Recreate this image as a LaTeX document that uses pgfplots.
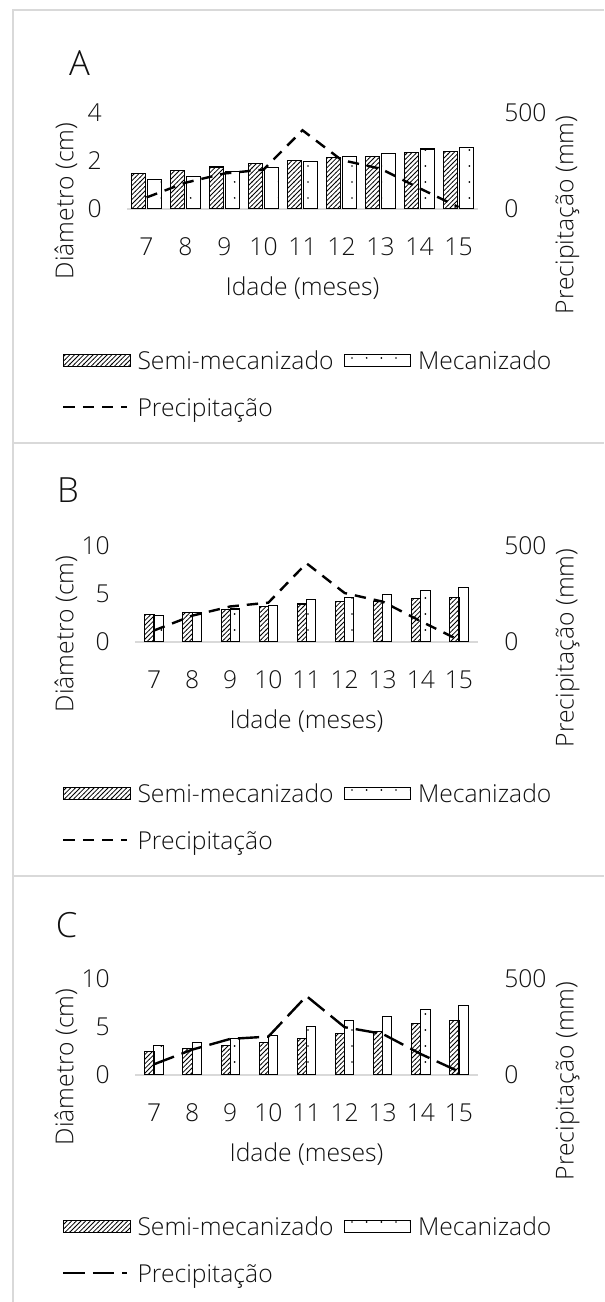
\documentclass[border=0pt]{standalone}
\usepackage{pgfplots}
\pgfplotsset{compat=1.18}
\usetikzlibrary{patterns}
\usepackage{fontspec}
\setmainfont{Open Sans}[UprightFont=* Light]
\newcommand\cf{\fontsize{18.5pt}{22pt}\selectfont}
\pgfdeclarepatternformonly{sparse dots}{\pgfqpoint{-1pt}{-1pt}}{\pgfqpoint{1pt}{1pt}}{\pgfqpoint{11pt}{12pt}}{\pgfpathcircle{\pgfpointorigin}{0.7pt}\pgfusepath{fill}}
\pgfdeclarepatternformonly{hatch}{\pgfqpoint{-1pt}{-1pt}}{\pgfqpoint{4.5pt}{4.5pt}}{\pgfqpoint{3.5pt}{3.5pt}}{\pgfsetlinewidth{0.6pt}\pgfpathmoveto{\pgfqpoint{-0.2pt}{-0.2pt}}\pgfpathlineto{\pgfqpoint{3.7pt}{3.7pt}}\pgfusepath{stroke}}
\definecolor{txt}{HTML}{111111}
\definecolor{frame}{HTML}{D9D9D9}
\pgfplotsset{
  base/.style={anchor=south west, scale only axis, height=72pt,
    xmin=6.5, xmax=15.5,
    tick style={draw=none}, major tick length=0pt,
    /pgf/number format/assume math mode=true,
    tick label style={font=\cf, text=txt, inner sep=0pt},
    label style={font=\cf, text=txt},
  },
  leftax/.style={base, axis x line*=bottom, axis y line*=left,
    xtick={7,...,15},
    x axis line style={draw=frame, line width=1.2pt},
    y axis line style={draw=none},
    xticklabel style={anchor=center, yshift=-28.5pt},
    yticklabel style={anchor=east, xshift=-18.75pt},
    xlabel={Idade (meses)},
    xlabel style={at={(axis description cs:0.5,0)}, anchor=center, yshift=-59.5pt},
    ylabel={Diâmetro (cm)},
    legend columns=2, legend cell align=left,
    legend style={at={(axis description cs:0,0)}, anchor=north west, yshift=-106.35pt,
      draw=none, fill=none, inner sep=0pt, font=\cf, text=txt, row sep=17.25pt,
      /tikz/every odd column/.append style={column sep=5.25pt},
      /tikz/every even column/.append style={column sep=7.5pt},
      nodes={inner sep=0pt, text height=13.5pt, text depth=4.5pt, anchor=base west}},
  },
  rightax/.style={base, axis x line=none, axis y line*=right, xtick=\empty,
    y axis line style={draw=none}, ymin=0, ymax=500, ytick={0,500},
    yticklabel style={anchor=west, xshift=19.5pt},
    ylabel={Precipitação (mm)},
  },
  semi/.style={ybar, draw=black, line width=0.8pt, pattern=hatch,
    legend image code/.code={\draw[black, line width=0.6pt, pattern=hatch] (0pt,2.2pt) rectangle (50pt,10.95pt);}},
  mec/.style={ybar, draw=black, line width=0.8pt, pattern=sparse dots,
    legend image code/.code={\draw[black, line width=0.6pt, pattern=sparse dots] (0pt,2.2pt) rectangle (50pt,10.95pt);}},
  precipA/.style={black, line width=1.8pt, dash pattern=on 8.5pt off 6pt,
    legend image code/.code={\draw[black, line width=1.8pt, dash pattern=on 8.5pt off 6pt] (0pt,6.6pt) -- (48pt,6.6pt);}},
  precipC/.style={black, line width=1.8pt, dash pattern=on 16pt off 6pt,
    legend image code/.code={\draw[black, line width=1.8pt, dash pattern=on 16pt off 6pt] (0pt,6.6pt) -- (48pt,6.6pt);}},
}
\begin{document}
\begin{tikzpicture}
\path[use as bounding box] (0pt,0pt) rectangle (453pt,976.5pt);
\fill[white] (0pt,0pt) rectangle (453pt,976.5pt);
% frames
\draw[frame, line width=1.1pt] (453pt,969pt) -- (9.75pt,969pt) -- (9.75pt,0pt);
\draw[frame, line width=1.1pt] (9.75pt,644.25pt) -- (453pt,644.25pt);
\draw[frame, line width=1.1pt] (9.75pt,319.5pt) -- (453pt,319.5pt);
% letters
\node[font=\fontsize{26pt}{30pt}\selectfont, text=txt] at (59.6pt,929.25pt) {A};
\node[font=\fontsize{26pt}{30pt}\selectfont, text=txt] at (51pt,609pt) {B};
\node[font=\fontsize{26pt}{30pt}\selectfont, text=txt] at (49.9pt,282.75pt) {C};

% ---------------- Panel A ----------------
\begin{axis}[leftax, at={(95.25pt,819.75pt)}, width=263.25pt,
  ymin=0, ymax=4, ytick={0,2,4},
  ylabel style={at={(axis description cs:-0.1738,0.0833)}, anchor=center},
  legend style={xshift=-48.75pt}]
\addplot[semi, bar width=0.357, bar shift=-0.21] coordinates {(7,1.46)(8,1.6)(9,1.75)(10,1.88)(11,2.03)(12,2.15)(13,2.19)(14,2.35)(15,2.39)};
\addlegendentry{Semi-mecanizado}
\addplot[mec, bar width=0.357, bar shift=0.21] coordinates {(7,1.21)(8,1.35)(9,1.55)(10,1.72)(11,1.97)(12,2.18)(13,2.3)(14,2.5)(15,2.58)};
\addlegendentry{Mecanizado}
\addlegendimage{precipA}
\addlegendentry{Precipitação}
\end{axis}
\begin{axis}[rightax, at={(95.25pt,819.75pt)}, width=263.25pt,
  ylabel style={at={(axis description cs:1.255,-0.0625)}, anchor=center}]
\addplot[precipA] coordinates {(7,60)(8,137)(9,185)(10,205)(11,410)(12,255)(13,210)(14,108)(15,10)};
\end{axis}

% ---------------- Panel B ----------------
\begin{axis}[leftax, at={(101.25pt,495pt)}, width=257.25pt,
  ymin=0, ymax=10, ytick={0,5,10},
  ylabel style={at={(axis description cs:-0.2012,0.084)}, anchor=center},
  legend style={xshift=-54.75pt}]
\addplot[semi, bar width=0.245, bar shift=-0.12] coordinates {(7,2.91)(8,3.09)(9,3.4)(10,3.65)(11,3.96)(12,4.18)(13,4.25)(14,4.49)(15,4.6)};
\addlegendentry{Semi-mecanizado}
\addplot[mec, bar width=0.245, bar shift=0.12] coordinates {(7,2.77)(8,3.09)(9,3.44)(10,3.79)(11,4.39)(12,4.67)(13,4.98)(14,5.37)(15,5.65)};
\addlegendentry{Mecanizado}
\addlegendimage{precipA}
\addlegendentry{Precipitação}
\end{axis}
\begin{axis}[rightax, at={(101.25pt,495pt)}, width=257.25pt,
  ylabel style={at={(axis description cs:1.261,-0.0625)}, anchor=center}]
\addplot[precipA] coordinates {(7,60)(8,137)(9,185)(10,205)(11,410)(12,255)(13,210)(14,108)(15,10)};
\end{axis}

% ---------------- Panel C ----------------
\begin{axis}[leftax, at={(101.25pt,170.25pt)}, width=257.25pt,
  ymin=0, ymax=10, ytick={0,5,10},
  ylabel style={at={(axis description cs:-0.2012,0.084)}, anchor=center},
  legend style={xshift=-54.75pt}]
\addplot[semi, bar width=0.245, bar shift=-0.12] coordinates {(7,2.48)(8,2.8)(9,3.09)(10,3.37)(11,3.76)(12,4.29)(13,4.57)(14,5.32)(15,5.64)};
\addlegendentry{Semi-mecanizado}
\addplot[mec, bar width=0.245, bar shift=0.12] coordinates {(7,3.05)(8,3.37)(9,3.79)(10,4.15)(11,5.04)(12,5.67)(13,6.1)(14,6.81)(15,7.2)};
\addlegendentry{Mecanizado}
\addlegendimage{precipC}
\addlegendentry{Precipitação}
\end{axis}
\begin{axis}[rightax, at={(101.25pt,170.25pt)}, width=257.25pt,
  ylabel style={at={(axis description cs:1.261,-0.0625)}, anchor=center}]
\addplot[precipC] coordinates {(7,56)(8,132)(9,188)(10,200)(11,411)(12,249)(13,214)(14,109)(15,18)};
\end{axis}
\end{tikzpicture}
\end{document}
